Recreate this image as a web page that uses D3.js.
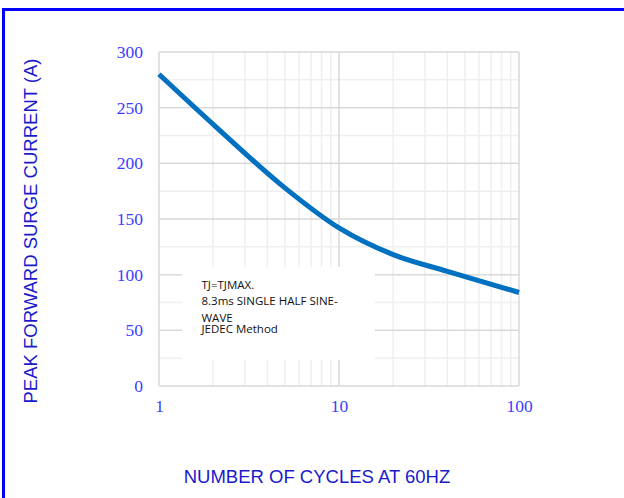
<!DOCTYPE html>
<html>
<head>
<meta charset="utf-8">
<script src="https://cdn.jsdelivr.net/npm/d3@7"></script>
<style>
body { margin: 0; background: #fff; }
svg { display: block; }
</style>
</head>
<body>
<svg id="chart" width="624" height="498"></svg>
<script>
// curve
var cycles = [1, 2, 5, 10, 20, 40, 100]
var current = [280, 235, 178, 142, 118, 103, 84]
var yTicks = [0, 50, 100, 150, 200, 250, 300]
var xTicks = [1, 10, 100]
var noteLines = ["TJ=TJMAX.", "8.3ms SINGLE HALF SINE-", "WAVE", "JEDEC Method"]

var svg = d3.select("#chart")

// blue frame
svg.append("rect")
	.attr("x", 3.5).attr("y", 9.5)
	.attr("width", 700).attr("height", 700)
	.attr("fill", "none")
	.attr("stroke", "#0000ff")
	.attr("stroke-width", 3)

var x = d3.scaleLog().domain([1, 100]).range([159, 519])
var y = d3.scaleLinear().domain([0, 300]).range([386, 52])

var grid = svg.append("g")
// minor grid
var minorX = []
for (var d = 1; d < 100; d *= 10)
	for (var k = 2; k <= 9; k++) minorX.push(d * k)
grid.selectAll(".mx").data(minorX).enter().append("line")
	.attr("x1", d => x(d)).attr("x2", d => x(d))
	.attr("y1", y(0)).attr("y2", y(300))
	.attr("stroke", "#efefef").attr("stroke-width", 1.5)
grid.selectAll(".my").data(d3.range(25, 300, 50)).enter().append("line")
	.attr("x1", x(1)).attr("x2", x(100))
	.attr("y1", d => y(d)).attr("y2", d => y(d))
	.attr("stroke", "#efefef").attr("stroke-width", 1.5)
// major grid
grid.selectAll(".Mx").data(xTicks).enter().append("line")
	.attr("x1", d => x(d)).attr("x2", d => x(d))
	.attr("y1", y(0)).attr("y2", y(300))
	.attr("stroke", "#d9d9d9").attr("stroke-width", 1.5)
grid.selectAll(".My").data(yTicks).enter().append("line")
	.attr("x1", x(1)).attr("x2", x(100))
	.attr("y1", d => y(d)).attr("y2", d => y(d))
	.attr("stroke", "#d9d9d9").attr("stroke-width", 1.5)

// white box behind the note
svg.append("rect")
	.attr("x", 182).attr("y", 267)
	.attr("width", 193).attr("height", 93)
	.attr("fill", "#fff")

var note = svg.append("g")
	.attr("font-family", "'Open Sans', 'Noto Sans', sans-serif")
	.attr("font-size", 11.5)
	.attr("fill", "#111")
var noteY = [289, 305, 322, 333]
note.selectAll("text").data(noteLines).enter().append("text")
	.attr("x", 201.5)
	.attr("y", (d, i) => noteY[i])
	.text(d => d)

// axes labels
var yAxis = d3.axisLeft(y).tickValues(yTicks).tickSize(0).tickPadding(16)
var xAxis = d3.axisBottom(x).tickValues(xTicks).tickFormat(d3.format("d")).tickSize(0).tickPadding(14)
var ya = svg.append("g").attr("transform", "translate(" + x(1) + ",0)").call(yAxis)
var xa = svg.append("g").attr("transform", "translate(0," + y(0) + ")").call(xAxis)
;[ya, xa].forEach(a => {
	a.select(".domain").remove()
	a.selectAll("text")
		.attr("font-family", "'Liberation Serif', 'DejaVu Serif', serif")
		.attr("font-size", 17.5)
		.attr("fill", "#3b3bff")
})

// the curve
var line = d3.line()
	.x(d => x(d[0]))
	.y(d => y(d[1]))
	.curve(d3.curveMonotoneX)
svg.append("path")
	.datum(d3.zip(cycles, current))
	.attr("d", line)
	.attr("fill", "none")
	.attr("stroke", "#0070c0")
	.attr("stroke-width", 5)

// titles
svg.append("text")
	.attr("transform", "translate(37,231) rotate(-90)")
	.attr("text-anchor", "middle")
	.attr("font-family", "'Liberation Sans', Arial, sans-serif")
	.attr("font-size", 18.5)
	.attr("fill", "#1a1acc")
	.text("PEAK FORWARD SURGE CURRENT (A)")
svg.append("text")
	.attr("x", 317).attr("y", 483)
	.attr("text-anchor", "middle")
	.attr("font-family", "'Liberation Sans', Arial, sans-serif")
	.attr("font-size", 18.5)
	.attr("fill", "#1a1acc")
	.text("NUMBER OF CYCLES AT 60HZ")
</script>
</body>
</html>
